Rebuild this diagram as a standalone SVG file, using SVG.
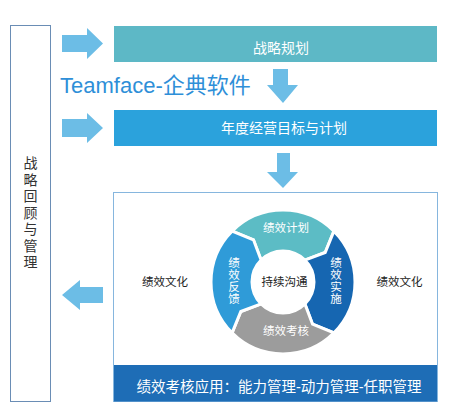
<svg xmlns="http://www.w3.org/2000/svg" width="465" height="420" viewBox="0 0 465 420">
<defs>
<style>
text{font-family:"Liberation Sans","Noto Sans CJK SC",sans-serif}
.w{fill:#fff;font-size:14px;text-anchor:middle}
.s{fill:#fff;font-size:11.5px;text-anchor:middle}
.d{fill:#222;font-size:11.5px;text-anchor:middle}
.arr{fill:#6cbde6}
.seg{stroke:#fff;stroke-width:3;stroke-linejoin:miter}
</style>
</defs>
<rect width="465" height="420" fill="#fff"/>
<g id="left-box">
<rect x="10.5" y="25.5" width="40" height="376" fill="#fff" stroke="#6a8db5" stroke-width="1"/>
<g fill="#333" font-size="14" text-anchor="middle">
<text x="30.5" y="168">战</text>
<text x="30.5" y="184.5">略</text>
<text x="30.5" y="201">回</text>
<text x="30.5" y="217.5">顾</text>
<text x="30.5" y="234">与</text>
<text x="30.5" y="250.5">管</text>
<text x="30.5" y="267">理</text>
</g>
</g>
<g id="strategy-plan">
<rect x="114" y="26" width="323" height="36" fill="#5db8c6"/>
<text class="w" x="281" y="53">战略规划</text>
</g>
<text id="brand" x="60" y="93" fill="#2e8fd8" font-size="22">Teamface-企典软件</text>
<g id="annual-plan">
<rect x="114" y="110" width="323" height="36" fill="#2ba2dc"/>
<text class="w" x="284" y="133">年度经营目标与计划</text>
</g>
<g id="performance-box">
<rect x="113.5" y="192.5" width="324" height="209" fill="#fff" stroke="#86b6de" stroke-width="1"/>
<rect x="114" y="365" width="323" height="36.5" fill="#1e6db6"/>
<text x="279" y="392" fill="#fff" font-size="14.5" text-anchor="middle">绩效考核应用：能力管理-动力管理-任职管理</text>
<text class="d" x="165" y="286">绩效文化</text>
<text class="d" x="399.5" y="286">绩效文化</text>
</g>
<g id="cycle">
<g id="plan">
<path class="seg" fill="#5cbcc5" d="M232.09,231.09 A72,72 0 0 1 333.91,231.09 L325.19,252.46 L304.92,260.08 A31,31 0 0 0 261.08,260.08 L253.46,239.81 Z"/>
<text class="s" x="286" y="232">绩效计划</text>
</g>
<g id="implement">
<path class="seg" fill="#1666b1" d="M333.91,231.09 A72,72 0 0 1 333.91,332.91 L312.54,324.19 L304.92,303.92 A31,31 0 0 0 304.92,260.08 L325.19,252.46 Z"/>
<text class="s" x="336" y="267">绩</text><text class="s" x="336" y="279">效</text><text class="s" x="336" y="291">实</text><text class="s" x="336" y="303">施</text>
</g>
<g id="assess">
<path class="seg" fill="#9c9c9c" d="M333.91,332.91 A72,72 0 0 1 232.09,332.91 L240.81,311.54 L261.08,303.92 A31,31 0 0 0 304.92,303.92 L312.54,324.19 Z"/>
<text class="s" x="286" y="335">绩效考核</text>
</g>
<g id="feedback">
<path class="seg" fill="#2f9bd8" d="M232.09,332.91 A72,72 0 0 1 232.09,231.09 L253.46,239.81 L261.08,260.08 A31,31 0 0 0 261.08,303.92 L240.81,311.54 Z"/>
<text class="s" x="234" y="267">绩</text><text class="s" x="234" y="279">效</text><text class="s" x="234" y="291">反</text><text class="s" x="234" y="303">馈</text>
</g>
<g id="communicate">
<text class="d" x="284.5" y="286">持续沟通</text>
</g>
</g>
<g id="connectors">
<path class="arr" d="M62,35 H87 V28 L103,43.5 L87,59 V52 H62 Z"/>
<path class="arr" d="M62,119 H87 V113 L103,128 L87,143 V137 H62 Z"/>
<path class="arr" d="M273,69 H288 V85 H298 L283,103 L267,85 H273 Z"/>
<path class="arr" d="M277,153 H290 V172 H298 L283,188 L267,172 H277 Z"/>
<path class="arr" d="M103,287 H80 V280 L62,295 L80,310 V303 H103 Z"/>
</g>
</svg>
